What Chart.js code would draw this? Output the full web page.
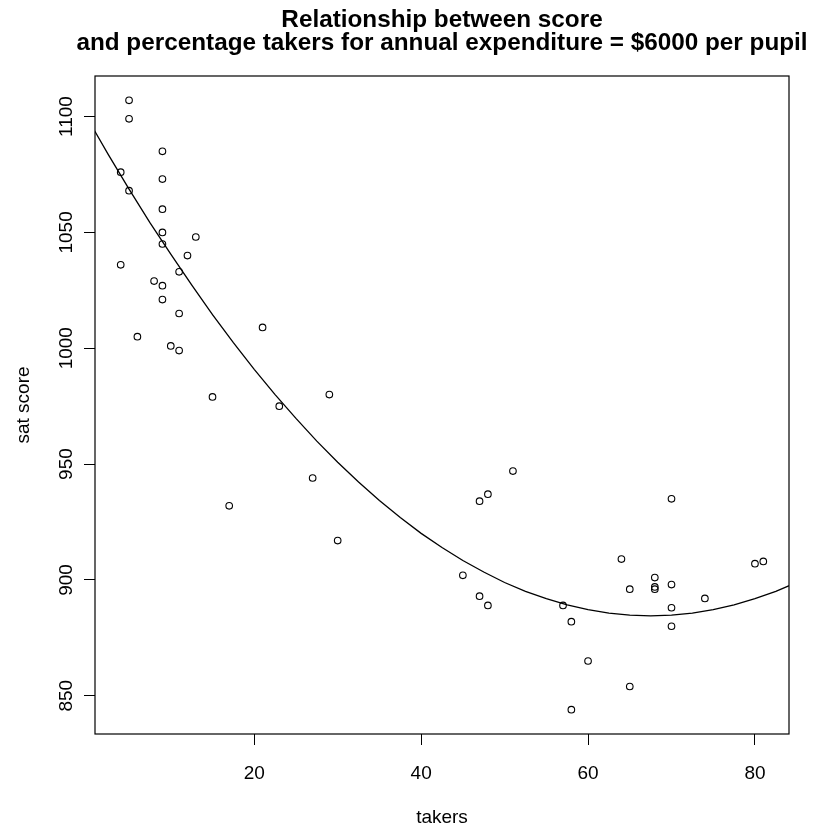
<!DOCTYPE html>
<html>
<head>
<meta charset="utf-8">
<script src="https://cdn.jsdelivr.net/npm/chart.js@4.4.1/dist/chart.umd.min.js"></script>
<style>
  html, body { margin: 0; padding: 0; background: #ffffff; }
  #wrap { width: 816px; height: 827px; }
</style>
</head>
<body>
<div id="wrap"><canvas id="c" width="816" height="827"></canvas></div>
<script>
// Percentage of pupils taking the SAT, and average SAT score, one pair per state
const takers = [5, 5, 9, 4, 9, 5, 9, 9, 13, 9,
                12, 4, 11, 8, 9, 9, 11, 21, 6, 10,
                11, 15, 29, 23, 27, 17, 30, 51, 47, 48,
                70, 45, 47, 48, 57, 58, 64, 65, 68, 68,
                68, 70, 70, 70, 74, 80, 81, 60, 65, 58];
const satScore = [1107, 1099, 1085, 1076, 1073, 1068, 1060, 1050, 1048, 1045,
                  1040, 1036, 1033, 1029, 1027, 1021, 1015, 1009, 1005, 1001,
                  999, 979, 980, 975, 944, 932, 917, 947, 934, 937,
                  935, 902, 893, 889, 889, 882, 909, 896, 901, 897,
                  896, 898, 888, 880, 892, 907, 908, 865, 854, 844];

// Predicted score at $6000 per pupil, sampled along the takers axis
const fitTakers = [0, 2.5, 5, 7.5, 10, 12.5, 15, 17.5, 20, 22.5, 25, 27.5, 30, 32.5, 35, 37.5,
                   40, 42.5, 45, 47.5, 50, 52.5, 55, 57.5, 60, 62.5, 65, 67.5, 70, 72.5,
                   75, 77.5, 80, 82.5, 85];
const fitScore  = [1099.3, 1083.7, 1068.7, 1054.2, 1040.6, 1027.3, 1014.5, 1002.4, 990.9, 980.0,
                   969.7, 959.9, 950.8, 942.3, 934.3, 926.9, 920.1, 914.0, 908.4, 903.4,
                   898.9, 895.1, 891.9, 889.2, 887.2, 885.7, 884.8, 884.5, 884.8, 885.7,
                   887.2, 889.2, 891.9, 895.1, 898.9];

// Axis ticks and limits
const xTicks = [20, 40, 60, 80];
const yTicks = [850, 900, 950, 1000, 1050, 1100];
const xLimits = [0.92, 84.08];
const yLimits = [833.5, 1117.5];

const titleLines = ['Relationship between score',
                    'and percentage takers for annual expenditure = $6000 per pupil'];
const xTitle = 'takers';
const yTitle = 'sat score';

const FONT = '"Liberation Sans", Arial, Helvetica, sans-serif';

const points = takers.map((t, i) => ({ x: t, y: satScore[i] }));
const curve = fitTakers.map((t, i) => ({ x: t, y: fitScore[i] }));

// Frame around the plotting region plus the two-line heading
const framePlugin = {
  id: 'frameAndHeading',
  afterDraw(chart) {
    const { ctx, chartArea: a } = chart;
    ctx.save();
    ctx.strokeStyle = '#000';
    ctx.lineWidth = 1.2;
    ctx.strokeRect(a.left, a.top, a.right - a.left, a.bottom - a.top);
    ctx.fillStyle = '#000';
    ctx.font = 'bold 24.3px ' + FONT;
    ctx.textAlign = 'center';
    ctx.textBaseline = 'alphabetic';
    const cx = (a.left + a.right) / 2;
    ctx.fillText(titleLines[0], cx, 27);
    ctx.fillText(titleLines[1], cx, 50);
    ctx.restore();
  }
};

new Chart(document.getElementById('c'), {
  type: 'scatter',
  data: {
    datasets: [
      {
        data: points,
        pointStyle: 'circle',
        pointRadius: 3.3,
        pointBorderWidth: 1.1,
        pointBorderColor: '#000',
        pointBackgroundColor: 'rgba(0,0,0,0)',
        showLine: false
      },
      {
        data: curve,
        showLine: true,
        borderColor: '#000',
        borderWidth: 1.3,
        pointRadius: 0,
        tension: 0,
        fill: false
      }
    ]
  },
  options: {
    responsive: false,
    animation: false,
    events: [],
    layout: { padding: { top: 76, right: 27, left: 0, bottom: 0 } },
    plugins: {
      legend: { display: false },
      title: { display: false },
      tooltip: { enabled: false }
    },
    scales: {
      x: {
        type: 'linear',
        position: 'bottom',
        min: xLimits[0],
        max: xLimits[1],
        afterBuildTicks: (s) => { s.ticks = xTicks.map(v => ({ value: v })); },
        afterFit: (s) => { s.height = 93; },
        grid: { drawOnChartArea: false, drawTicks: true, tickLength: 11, color: '#000', lineWidth: 1 },
        border: { display: false },
        ticks: {
          autoSkip: false,
          maxRotation: 0,
          minRotation: 0,
          padding: 17,
          color: '#000',
          font: { family: FONT, size: 19, lineHeight: 1.2 },
          callback: (v) => String(v)
        },
        title: {
          display: true,
          text: xTitle,
          color: '#000',
          font: { family: FONT, size: 19, lineHeight: 1 },
          padding: { top: 0, bottom: 0 }
        }
      },
      y: {
        type: 'linear',
        position: 'left',
        min: yLimits[0],
        max: yLimits[1],
        afterBuildTicks: (s) => { s.ticks = yTicks.map(v => ({ value: v })); },
        afterFit: (s) => { s.width = 95; },
        grid: { drawOnChartArea: false, drawTicks: true, tickLength: 11, color: '#000', lineWidth: 1 },
        border: { display: false },
        ticks: {
          autoSkip: false,
          minRotation: 90,
          maxRotation: 90,
          crossAlign: 'center',
          padding: -4,
          color: '#000',
          font: { family: FONT, size: 19, lineHeight: 1.2 },
          callback: (v) => String(v)
        },
        title: {
          display: true,
          text: yTitle,
          color: '#000',
          font: { family: FONT, size: 19, lineHeight: 1 },
          padding: { top: 14, bottom: 0 }
        }
      }
    }
  },
  plugins: [framePlugin]
});
</script>
</body>
</html>
